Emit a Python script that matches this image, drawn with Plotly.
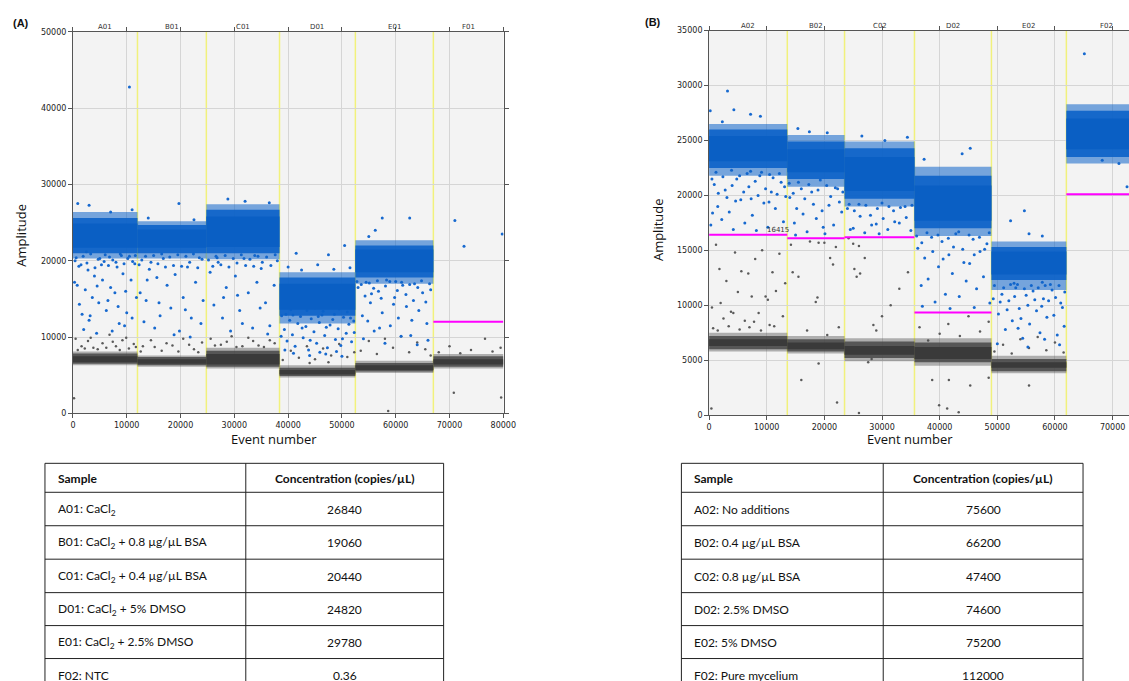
import plotly.graph_objects as go

# the photographed page comes out ~1.2% smaller than the figure; size the figure so it fills the frame
W, H = 1143, 689
def px(x): return x / 1129
def py(y): return 1 - y / 681

# ---------------- Panel A data ----------------
wells_A = ["A01", "B01", "C01", "D01", "E01", "F01"]
edges_A = [0, 12000, 24800, 38400, 52500, 67000, 80000]
# positive (blue) cluster: outer lo, mid lo, core lo, core hi, mid hi, outer hi
blue_A = [(20300, 21000, 21700, 24900, 25600, 26400), (20300, 21000, 21700, 24100, 24700, 25200),
          (20200, 21000, 21800, 25800, 26700, 27400), (11800, 12800, 13600, 17000, 17800, 18500),
          (17000, 17800, 18500, 21500, 22000, 22700), None]
gray_A = [(6300, 6500, 6700, 7500, 7850, 8100), (6100, 6300, 6500, 7100, 7400, 7600),
          (5900, 6100, 6400, 7800, 8200, 8600), (4700, 4900, 5100, 5700, 6000, 6300),
          (5300, 5500, 5700, 6300, 6600, 6900), (5900, 6100, 6400, 7100, 7500, 7800)]
thr_A = [None, None, None, None, None, 12000]

rain_blue_A = [
    (300, 17200), (800, 16800), (1500, 19500), (2500, 21200), (3200, 12800), (4000, 18000), (4800, 14500),
    (5500, 17500), (6200, 13500), (7000, 16500), (7800, 15800), (8600, 11800), (9300, 18300), (10000, 13200),
    (10800, 17500), (11500, 19600), (1200, 14300), (3600, 15200), (5000, 20300), (6800, 20500), (8200, 19200),
    (9800, 16000), (11000, 12500), (2000, 11000), (4400, 10500), (7300, 10800), (10500, 20600), (600, 20400),
    (2800, 18800), (5800, 19900), (9000, 20700), (11800, 15200), (10500, 42800), (900, 27500), (3000, 27300),
    (7000, 26400), (11000, 26700),
    (400, 20000), (1100, 19300), (1900, 20600), (2600, 19700), (3300, 20900), (4100, 19100), (4700, 20200),
    (5300, 19500), (6000, 20800), (6600, 19400), (7400, 20100), (8000, 19800), (8800, 20900), (9500, 19600),
    (10200, 20300), (11100, 19900), (11600, 20700), (2300, 16200), (4500, 16700), (6500, 14800), (8400, 14000),
    (9600, 11500), (1700, 13000), (3000, 12200),
    (12500, 15800), (13200, 12000), (13800, 17500), (14500, 19800), (15200, 11200), (16000, 14500), (16800, 20300),
    (17500, 16800), (18200, 13800), (19000, 18200), (19800, 10800), (20500, 15200), (21300, 19200), (22000, 12500),
    (22800, 17200), (23500, 20400), (24200, 14800), (12800, 20100), (18800, 10300), (21800, 10000), (15600, 17800),
    (19700, 27500), (14000, 25600), (22500, 25400),
    (12300, 19500), (13500, 20600), (14200, 18900), (15000, 20700), (15800, 19600), (16500, 20900), (17200, 19200),
    (18000, 20500), (18700, 19400), (19500, 20800), (20200, 19300), (21000, 20600), (21700, 19800), (22400, 20900),
    (23200, 19100), (24000, 20200), (13600, 14800), (16200, 12800), (20900, 13600), (23800, 11800),
    (25500, 18500), (26200, 14200), (27000, 19800), (27800, 12500), (28500, 16500), (29300, 10800), (30200, 18000),
    (31000, 13500), (31800, 20300), (32600, 15800), (33400, 11200), (34200, 17200), (35000, 19000), (35800, 14500),
    (36600, 11500), (37400, 16800), (38000, 20000), (26600, 20600), (30600, 15500), (33800, 20700), (36200, 10400),
    (28800, 28100), (32000, 27800), (36500, 27600),
    (25200, 20100), (26000, 19300), (26800, 20400), (27500, 19500), (28300, 20700), (29000, 19200), (29800, 20300),
    (30500, 19700), (31300, 20800), (32100, 19400), (32900, 20200), (33600, 19300), (34400, 20600), (35200, 19800),
    (36000, 20500), (36800, 19400), (37600, 20800), (28000, 15200), (31500, 11800), (34800, 13800),
    (38800, 12800), (39300, 11000), (39800, 9500), (40300, 12200), (40800, 10300), (41300, 8800), (41800, 11800),
    (42300, 12700), (42800, 9900), (43300, 11400), (43800, 8300), (44300, 12400), (44800, 10700), (45300, 9200),
    (45800, 11900), (46300, 12900), (46800, 10200), (47300, 8600), (47800, 11600), (48300, 12300), (48800, 9700),
    (49300, 11100), (49800, 8900), (50300, 12600), (50800, 10500), (51300, 11700), (51800, 9400), (52200, 12100),
    (39000, 14200), (40500, 13600), (42000, 14000), (43500, 13500), (45000, 13800), (46500, 13400), (48000, 14100),
    (49500, 13700), (51000, 13300), (52000, 13900), (41000, 7900), (44000, 7600), (47000, 7800), (50000, 7500),
    (40000, 19200), (42500, 18800), (45500, 19500), (48500, 18900), (51500, 19100), (41500, 21000), (47500, 20800),
    (50500, 22000),
    (38700, 10100), (39600, 13000), (40900, 12900), (42600, 11200), (44100, 9600), (45600, 12700), (47100, 11300),
    (48600, 13000), (50100, 9800), (51600, 12500), (52300, 10600), (39400, 8300), (45900, 8000), (49000, 8100),
    (53000, 16500), (53800, 12800), (54500, 17200), (55300, 14500), (56000, 10800), (56800, 16000), (57500, 13200),
    (58300, 17500), (59000, 11500), (59800, 15200), (60500, 12500), (61300, 16800), (62000, 14000), (62800, 10200),
    (63500, 17000), (64300, 13500), (65000, 15800), (65800, 11800), (66500, 16200), (54000, 9800), (58000, 9200),
    (61000, 10100), (64000, 9000), (55500, 15700), (60000, 17300), (57500, 25600), (62600, 25600), (56200, 24000),
    (55000, 23200),
    (52800, 17300), (53600, 16900), (54300, 15400), (55100, 17100), (55900, 16400), (56600, 17400), (57300, 15100),
    (58100, 16700), (58900, 17300), (59600, 14300), (60300, 16100), (61100, 17200), (61900, 15600), (62600, 16900),
    (63300, 14800), (64100, 16500), (64800, 17400), (65600, 14600), (66300, 17000), (54800, 12100), (57000, 11200),
    (63000, 12200), (66000, 9600),
    (71000, 25300), (72700, 21900), (79800, 23500),
]
rain_gray_A = [
    (500, 9800), (1600, 8800), (2800, 9500), (3800, 8600), (5500, 9200), (6800, 10300), (8000, 8800), (9200, 9600),
    (10400, 8500), (11300, 9100), (200, 2000), (900, 8300), (2200, 8500), (3300, 9900), (4600, 8400),
    (6200, 8600), (7400, 9400), (8700, 8300), (9900, 9900), (11700, 8700),
    (13000, 8800), (14500, 9600), (16500, 8200), (18500, 8900), (20500, 9800), (22500, 8400), (24000, 9300),
    (12600, 8100), (15200, 8700), (17400, 9200), (19600, 8100), (21600, 9000), (23300, 8000),
    (25600, 9800), (27500, 9000), (29500, 10100), (31500, 8800), (33500, 9500), (35500, 8700), (37500, 9200),
    (26400, 8900), (28600, 9400), (30400, 8700), (32600, 9900), (34500, 8900), (36600, 9600),
    (39000, 7000), (40500, 8200), (42000, 7300), (43500, 8800), (45000, 7100), (46500, 8500), (48000, 7600),
    (49500, 9100), (51000, 7400), (52300, 8000), (44000, 6600), (47500, 6700),
    (53500, 8200), (55000, 9500), (56500, 7800), (58000, 9800), (59500, 8600), (61000, 10100), (62500, 8000),
    (64000, 9300), (65500, 8400), (66500, 7600), (58600, 300),
    (68000, 8000), (70000, 8800), (72000, 7900), (74000, 8300), (76600, 9800), (78000, 8100), (79500, 8600),
    (70800, 2700), (79600, 2100),
]

# ---------------- Panel B data ----------------
wells_B = ["A02", "B02", "C02", "D02", "E02", "F02"]
edges_B = [0, 13570, 23500, 35630, 48980, 61980, 76000]
blue_B = [(21800, 22500, 23100, 25400, 26000, 26500), (20800, 21500, 22100, 24200, 24900, 25500),
          (19000, 19700, 20400, 23500, 24300, 24900), (16300, 17000, 17700, 20900, 21800, 22600),
          (11400, 12300, 12800, 14900, 15300, 15800), (22900, 23500, 24200, 27000, 27700, 28300)]
gray_B = [(5800, 6000, 6300, 6900, 7200, 7500), (5600, 5800, 6000, 6600, 6900, 7200),
          (4900, 5200, 5500, 6300, 6700, 7000), (4500, 4800, 5100, 6200, 6600, 7000),
          (3800, 4000, 4300, 4800, 5100, 5400), None]
thr_B = [16415, 16100, 16200, 9350, None, 20100]
thr_label_B = "16415"
thr_label_x_B = 9750

rain_blue_B = [
    (300, 17300), (900, 21000), (1500, 19000), (2200, 17800), (2800, 20500), (3500, 18500), (4200, 16900),
    (4800, 21500), (5500, 19600), (6200, 17500), (6900, 20800), (7500, 18200), (8200, 16800), (8800, 21800),
    (9500, 19300), (10200, 17100), (10800, 20300), (11500, 18800), (12200, 22000), (12900, 17600), (13300, 19900),
    (1200, 22100), (3900, 22300), (7200, 22200), (10500, 21900), (600, 18400),
    (3200, 29500), (4300, 27800), (200, 27700), (7200, 27400), (8900, 27200), (2300, 26700),
    (500, 21500), (1600, 20200), (2400, 21700), (3100, 19800), (4000, 20900), (4600, 19500), (5300, 21800),
    (6000, 20300), (6600, 22000), (7300, 19700), (8000, 21300), (8500, 20000), (9100, 22100), (9800, 20600),
    (10400, 19400), (11100, 21600), (11800, 20100), (12500, 21200), (13100, 20800),
    (14000, 19800), (14800, 17500), (15500, 21200), (16300, 18300), (17000, 16700), (17800, 20300), (18600, 17900),
    (19300, 21400), (20100, 16500), (20800, 19100), (21600, 17300), (22300, 20600), (23000, 18500), (15000, 16400),
    (19800, 17100), (15400, 26100), (20500, 25700), (17400, 25800),
    (13900, 21100), (14600, 20200), (15200, 18800), (16000, 20600), (16600, 19700), (17300, 21000), (18100, 19200),
    (18900, 20500), (19600, 18600), (20400, 20900), (21100, 19900), (21900, 20700), (22600, 19400), (23200, 20300),
    (24000, 18800), (25000, 17000), (26000, 19200), (27000, 16600), (28000, 18200), (29000, 17400), (30000, 19300),
    (31000, 16900), (32000, 18600), (33000, 17500), (34000, 19000), (35000, 16800), (24500, 16900), (29500, 16500),
    (26500, 25400), (34400, 25300), (30500, 25000),
    (24300, 19200), (25200, 18600), (26200, 18100), (27200, 19100), (28200, 17300), (29200, 18800), (30200, 17900),
    (31200, 19000), (32200, 17600), (33200, 18900), (34200, 18000), (35200, 19100),
    (36200, 15200), (36800, 11800), (37400, 14300), (38000, 12400), (38600, 16200), (39200, 10300), (39800, 13500),
    (40400, 15800), (41000, 11000), (41600, 14600), (42200, 12900), (42800, 16500), (43400, 10800), (44000, 15100),
    (44600, 12200), (45200, 13800), (45800, 16000), (46400, 11500), (47000, 14900), (47600, 12600), (48200, 15600),
    (48700, 10200), (37000, 9900), (41800, 9700), (46000, 9800), (45300, 24300), (43900, 23800), (37300, 23300),
    (36000, 16300), (36900, 15700), (37800, 16600), (38800, 14900), (39700, 16400), (40600, 14200), (41500, 16100),
    (42400, 15300), (43300, 16700), (44200, 13900), (45100, 16400), (46000, 14600), (46900, 16200), (47800, 15100),
    (48600, 16600),
    (49500, 11800), (50200, 9200), (50800, 11000), (51400, 7800), (52000, 10400), (52600, 8600), (53200, 11600),
    (53800, 9700), (54400, 7000), (55000, 10900), (55600, 8300), (56200, 11300), (56800, 9500), (57400, 7500),
    (58000, 10600), (58600, 8900), (59200, 11900), (59800, 9100), (60400, 7300), (61000, 10200), (61600, 8100),
    (50000, 6500), (55300, 6200), (60800, 6400), (52900, 12000), (57800, 12100), (55500, 16500), (57800, 16300),
    (52300, 17700), (54700, 18600),
    (49300, 10600), (50500, 10300), (51100, 11600), (51700, 9600), (52300, 11900), (53000, 10800), (53500, 11900),
    (54100, 8800), (54700, 11500), (55300, 10000), (55900, 11800), (56500, 10500), (57100, 11600), (57700, 9900),
    (58300, 11800), (58900, 10400), (59500, 11400), (60100, 10700), (60700, 11800), (61300, 9800), (61700, 11200),
    (53600, 7900), (58200, 6900),
    (65100, 32900), (72500, 20800), (68200, 23200), (71100, 22900),
]
rain_gray_B = [
    (500, 9800), (1200, 15500), (1800, 13300), (2500, 8800), (3000, 12200), (3800, 9400), (4500, 14800),
    (5000, 11200), (5600, 13100), (6200, 8600), (6800, 12900), (7400, 10800), (8000, 14200), (8600, 9300),
    (9200, 15000), (9800, 10800), (10500, 8200), (11000, 13000), (11600, 11300), (12200, 14700), (12800, 9000),
    (13200, 12000), (2000, 10200), (4200, 9300), (7800, 8500), (10200, 10500), (400, 600),
    (700, 7900), (1500, 7700), (3400, 8100), (5300, 7800), (7000, 8000), (9000, 7700), (11300, 8100),
    (14500, 13000), (15500, 12600), (16000, 3200), (17000, 7700), (18500, 10300), (18800, 10700), (19000, 4700),
    (19000, 15700), (20000, 15700), (21000, 14300), (21500, 13700), (22000, 15300), (22500, 8000), (22200, 1150),
    (17500, 15800), (20500, 7300), (14200, 15500),
    (24200, 16100), (25000, 15600), (25200, 13300), (25600, 12600), (26200, 12900), (26000, 15400), (26000, 200),
    (27000, 14300), (28500, 8200), (29000, 7700), (30000, 9000), (31500, 10000), (33000, 11500), (34500, 13000),
    (27600, 4800), (28200, 5100),
    (36500, 8000), (38000, 6800), (40000, 7400), (41500, 8300), (43500, 7200), (45000, 9000), (47000, 7600),
    (48500, 8500), (38700, 3200), (41600, 3200), (39900, 900), (41300, 600), (43300, 250), (45300, 2700),
    (48500, 3400),
    (49500, 5800), (51000, 6400), (52500, 5600), (54000, 6900), (55500, 6100), (57000, 7100), (58500, 5900),
    (60000, 6600), (61500, 5700), (55500, 2700),
]

# ---------------- Tables ----------------
tab_headers = ["Sample", "Concentration (copies/µL)"]
samples_A = ["A01: CaCl<sub>2</sub>", "B01: CaCl<sub>2</sub> + 0.8 µg/µL BSA", "C01: CaCl<sub>2</sub> + 0.4 µg/µL BSA",
             "D01: CaCl<sub>2</sub> + 5% DMSO", "E01: CaCl<sub>2</sub> + 2.5% DMSO", "F02: NTC"]
conc_A = ["26840", "19060", "20440", "24820", "29780", "0.36"]
samples_B = ["A02: No additions", "B02: 0.4 µg/µL BSA", "C02: 0.8 µg/µL BSA",
             "D02: 2.5% DMSO", "E02: 5% DMSO", "F02: Pure mycelium"]
conc_B = ["75600", "66200", "47400", "74600", "75200", "112000"]

BLUE_LEVELS = ["rgba(12,98,200,0.55)", "rgba(12,98,200,0.9)", "#0a5fc4"]
GRAY_LEVELS = ["rgba(70,70,70,0.4)", "rgba(70,70,70,0.85)", "#3a3a3a"]

fig = go.Figure()

def band(xs, xe, lo, hi, color, xa, ya):
    fig.add_trace(go.Scatter(x=[xs, xe, xe, xs, xs], y=[lo, lo, hi, hi, lo], mode="lines",
                             fill="toself", fillcolor=color, line=dict(width=0),
                             hoverinfo="skip", showlegend=False, xaxis=xa, yaxis=ya))

def cluster(s, e, lv, colors, xa, ya):
    for k in range(3):
        band(s, e, lv[k], lv[5 - k], colors[k], xa, ya)

def panel(edges, blue, gray, rb, rg, xa, ya):
    fig.add_trace(go.Scatter(x=[p[0] for p in rg], y=[p[1] for p in rg], mode="markers",
                             marker=dict(size=2.5, color="#5a5a5a"),
                             hoverinfo="skip", showlegend=False, xaxis=xa, yaxis=ya))
    fig.add_trace(go.Scatter(x=[p[0] for p in rb], y=[p[1] for p in rb], mode="markers",
                             marker=dict(size=3, color="#1769cf"),
                             hoverinfo="skip", showlegend=False, xaxis=xa, yaxis=ya))
    for i in range(len(edges) - 1):
        s, e = edges[i], edges[i + 1]
        if gray[i]:
            cluster(s, e, gray[i], GRAY_LEVELS, xa, ya)
        if blue[i]:
            cluster(s, e, blue[i], BLUE_LEVELS, xa, ya)

panel(edges_A, blue_A, gray_A, rain_blue_A, rain_gray_A, "x", "y")
panel(edges_B, blue_B, gray_B, rain_blue_B, rain_gray_B, "x2", "y2")

for edges, thr, xa, ya in [(edges_A, thr_A, "x", "y"), (edges_B, thr_B, "x2", "y2")]:
    for i, t in enumerate(thr):
        if t is not None:
            fig.add_trace(go.Scatter(x=[edges[i], edges[i + 1]], y=[t, t], mode="lines",
                                     line=dict(color="#ff00ff", width=2), hoverinfo="skip",
                                     showlegend=False, xaxis=xa, yaxis=ya))

shapes = []
for edges, xa, ya, top in [(edges_A, "x", "y", 50000), (edges_B, "x2", "y2", 35000)]:
    for b in edges[1:-1]:
        shapes.append(dict(type="line", xref=xa, yref=ya, x0=b, x1=b, y0=0, y1=top,
                           line=dict(color="#f1f17c", width=1.5), layer="below"))

annotations = []
def note(x, y, text, font, xanchor="center", xref="paper", yref="paper", **kw):
    annotations.append(dict(x=x, y=y, xref=xref, yref=yref, text=text, showarrow=False, font=font,
                            xanchor=xanchor, yanchor=kw.pop("yanchor", "middle"), **kw))

small = dict(family="DejaVu Sans", size=7, color="#333")
for wells, edges, xa, ytop in [(wells_A, edges_A, "x", 23), (wells_B, edges_B, "x2", 22)]:
    for i, w in enumerate(wells):
        note((edges[i] + edges[i + 1]) / 2, py(ytop), w, small, xref=xa)
note(thr_label_x_B, thr_B[0], thr_label_B, small, xanchor="left", xref="x2", yref="y2",
     yanchor="bottom", yshift=-1)

title_font = dict(family="Open Sans", size=13, color="#111")
note(px(18), py(231), "Amplitude", title_font, textangle=-90)
note(px(271), py(436), "Event number", title_font)
note(px(655), py(226), "Amplitude", title_font, textangle=-90)
note(px(908), py(436), "Event number", title_font)
panel_font = dict(family="Liberation Sans", size=11, color="#111")
note(px(18), py(19), "<b>(A)</b>", panel_font)
note(px(651), py(18), "<b>(B)</b>", panel_font)

# tables
row_lines = [460, 489, 522.5, 556, 589.5, 622.5, 655.5]
row_centers = [475, 506, 539, 573, 606, 639, 672]
tfont = dict(family="Lato", size=12, color="#111")
for (x0, xm, x1, samples, conc) in [(42, 243, 441, samples_A, conc_A), (679, 881, 1081, samples_B, conc_B)]:
    for yl in row_lines:
        shapes.append(dict(type="line", xref="paper", yref="paper", x0=px(x0), x1=px(x1), y0=py(yl), y1=py(yl),
                           line=dict(color="#222", width=1)))
    for xv in (x0, xm, x1):
        shapes.append(dict(type="line", xref="paper", yref="paper", x0=px(xv), x1=px(xv), y0=py(row_lines[0]),
                           y1=0, line=dict(color="#222", width=1)))
    note(px(x0 + 11), py(row_centers[0]), "<b>" + tab_headers[0] + "</b>", tfont, xanchor="left")
    note(px((xm + x1) / 2), py(row_centers[0]), "<b>" + tab_headers[1] + "</b>", tfont)
    for i, (s, c) in enumerate(zip(samples, conc)):
        note(px(x0 + 11), py(row_centers[i + 1]), s, tfont, xanchor="left")
        note(px((xm + x1) / 2), py(row_centers[i + 1]), c, tfont)

axis_common = dict(showgrid=True, gridcolor="#d5d5d5", gridwidth=1, zeroline=False, showline=True,
                   linecolor="#555", linewidth=1, ticks="outside", ticklen=4, tickcolor="#555",
                   tickfont=dict(family="DejaVu Sans", size=8, color="#222"), tickformat="d")

fig.update_layout(
    width=W, height=H, margin=dict(l=0, r=0, t=0, b=0),
    paper_bgcolor="white", plot_bgcolor="#f3f3f3", showlegend=False,
    xaxis=dict(domain=[px(70), px(501)], range=[0, 80050], dtick=10000, mirror="allticks",
               anchor="y", **axis_common),
    yaxis=dict(domain=[py(410), py(28)], range=[0, 50000], dtick=10000, mirror="allticks",
               anchor="x", **axis_common),
    xaxis2=dict(domain=[px(706.7), 1.0], range=[0, 73190], dtick=10000, mirror="allticks",
                anchor="y2", **axis_common),
    yaxis2=dict(domain=[py(411.7), py(26.7)], range=[0, 35000], dtick=5000, mirror=False,
                anchor="x2", **axis_common),
    shapes=shapes, annotations=annotations,
)

fig.write_html("out.html", config={"displayModeBar": False},
               post_script="document.body.style.margin='0px';document.body.style.overflow='hidden';"
                           "document.documentElement.style.overflow='hidden';")
